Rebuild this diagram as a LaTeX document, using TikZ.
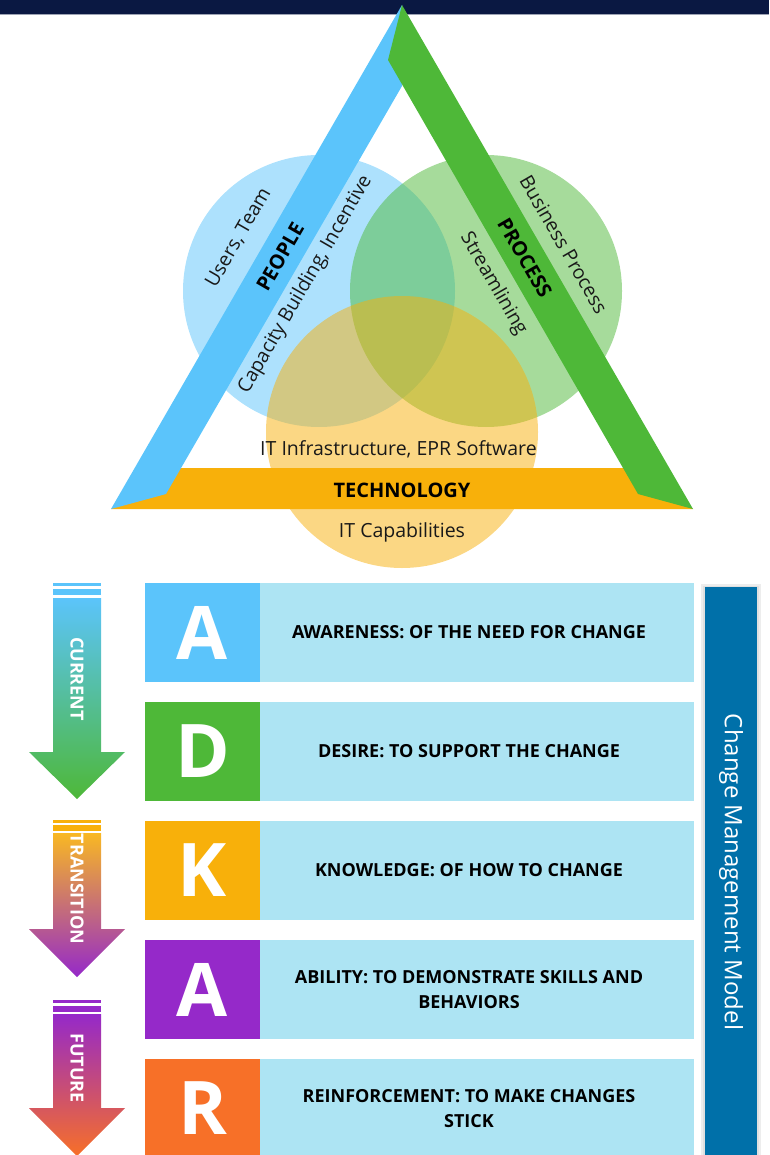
\documentclass[tikz,border=0pt]{standalone}
\usepackage{fontspec}
\setmainfont{Open Sans}
\usetikzlibrary{calc}

\definecolor{navy}{RGB}{10,24,66}
\definecolor{peopleblue}{RGB}{91,196,251}
\definecolor{processgreen}{RGB}{78,184,56}
\definecolor{techorange}{RGB}{248,176,10}
\definecolor{abilitypurple}{RGB}{149,41,201}
\definecolor{reinforceorange}{RGB}{247,112,40}
\definecolor{rowblue}{RGB}{173,228,243}
\definecolor{modelblue}{RGB}{0,112,169}

\tikzset{
  venn/.style={fill=#1, fill opacity=0.5},
  bandtext/.style={inner sep=0pt, text=black!90, font=\fontsize{19.5}{22}\selectfont},
  bandtitle/.style={inner sep=0pt, text=black, font=\bfseries\fontsize{20}{22}\selectfont},
  letterbox/.style={fill=#1, minimum width=115pt, minimum height=99pt, inner sep=0pt,
    text=white, font=\bfseries\fontsize{74}{74}\selectfont},
  rowbox/.style={fill=rowblue, minimum width=434pt, minimum height=99pt, inner sep=0pt},
  rowtext/.style={align=center, inner sep=0pt, font=\bfseries\fontsize{18}{25}\selectfont},
  arrowtext/.style={rotate=-90, inner sep=0pt, text=white, font=\bfseries\fontsize{18}{20}\selectfont}
}

\begin{document}
\begin{tikzpicture}[x=1pt,y=-1pt]
  \useasboundingbox (0,0) rectangle (769,1155);
  \clip (0,0) rectangle (769,1155);

  % header
  \fill [navy] (0,0) rectangle (769,15);
  \fill [navy!40!white] (0,14.5) rectangle (769,15.5);

  % people / process / technology circles
  \fill [venn=peopleblue] (319,291) circle [radius=136];
  \fill [venn=processgreen] (486,291) circle [radius=136];
  \fill [venn=techorange] (402,432) circle [radius=136];

  % triangle bands
  \fill [techorange] (111,509) -- (176,468) -- (628,468) -- (693,509) -- cycle;
  \fill [peopleblue] (402,5) -- (111,509) -- (166,494) -- (402,86) -- cycle;
  \fill [processgreen] (402,5) -- (693,509) -- (638,494) -- (388,60) -- cycle;

  \node [bandtext, rotate=60] (users) at (238.5,237.5) {Users, Team};
  \node [bandtitle, rotate=60] (people) at (280,257) {PEOPLE};
  \node [bandtext, rotate=60] (capacity) at (305.5,284.6) {Capacity Building, Incentive};
  \node [bandtext, rotate=-60] (business) at (563.8,244.6) {Business Process};
  \node [bandtitle, rotate=-60] (process) at (524.8,257.9) {PROCESS};
  \node [bandtext, rotate=-60] (streamline) at (493.4,283.9) {Streamlining};
  \node [bandtext] (infra) at (398.5,449) {IT Infrastructure, EPR Software};
  \node [bandtitle] (technology) at (402,490) {TECHNOLOGY};
  \node [bandtext] (capabilities) at (402,532) {IT Capabilities};

  % stage arrows
  \fill [peopleblue] (53,583) rectangle (101,586);
  \fill [peopleblue] (53,589) rectangle (101,595);
  \shade [top color=peopleblue, bottom color=processgreen]
    (53,598) -- (101,598) -- (101,752) -- (125,752) -- (77,799) -- (29,752) -- (53,752) -- cycle;
  \node [arrowtext] (current) at (77,679) {CURRENT};

  \fill [techorange] (53,820) rectangle (101,823);
  \fill [techorange] (53,825) rectangle (101,831);
  \shade [top color=techorange!90!white, bottom color=abilitypurple]
    (53,833) -- (101,833) -- (101,929) -- (125,929) -- (77,977) -- (29,929) -- (53,929) -- cycle;
  \node [arrowtext] (transition) at (77,889) {TRANSITION};

  \fill [abilitypurple] (53,1000) rectangle (101,1003);
  \fill [abilitypurple] (53,1006) rectangle (101,1012);
  \shade [top color=abilitypurple, bottom color=reinforceorange]
    (53,1014) -- (101,1014) -- (101,1108) -- (125,1108) -- (77,1156) -- (29,1108) -- (53,1108) -- cycle;
  \node [arrowtext] (future) at (77,1068) {FUTURE};

  % ADKAR rows
  \node [rowbox] (awarebox) at (477,632.5) {};
  \node [letterbox=peopleblue] (aware) at (202.5,632.5) {A};
  \node [rowtext] (awaretext) at (469,632.5) {AWARENESS: OF THE NEED FOR CHANGE};

  \node [rowbox] (desirebox) at (477,751.5) {};
  \node [letterbox=processgreen] (desire) at (202.5,751.5) {D};
  \node [rowtext] (desiretext) at (469,751.5) {DESIRE: TO SUPPORT THE CHANGE};

  \node [rowbox] (knowbox) at (477,870.5) {};
  \node [letterbox=techorange] (know) at (202.5,870.5) {K};
  \node [rowtext] (knowtext) at (469,870.5) {KNOWLEDGE: OF HOW TO CHANGE};

  \node [rowbox] (abilitybox) at (477,989.5) {};
  \node [letterbox=abilitypurple] (ability) at (202.5,989.5) {A};
  \node [rowtext] (abilitytext) at (469,989.5) {ABILITY: TO DEMONSTRATE SKILLS AND\\BEHAVIORS};

  \node [rowbox] (reinforcebox) at (477,1108.5) {};
  \node [letterbox=reinforceorange] (reinforce) at (202.5,1108.5) {R};
  \node [rowtext] (reinforcetext) at (469,1108.5) {REINFORCEMENT: TO MAKE CHANGES\\STICK};

  % model bar
  \fill [black!7] (701,584) rectangle (761,1158);
  \fill [black!12] (703,586) rectangle (759,1158);
  \fill [modelblue] (705,587) rectangle (757,1158);
  \node [rotate=-90, inner sep=0pt, text=white, font=\fontsize{24}{26}\selectfont] (model) at (731,872) {Change Management Model};
\end{tikzpicture}
\end{document}
